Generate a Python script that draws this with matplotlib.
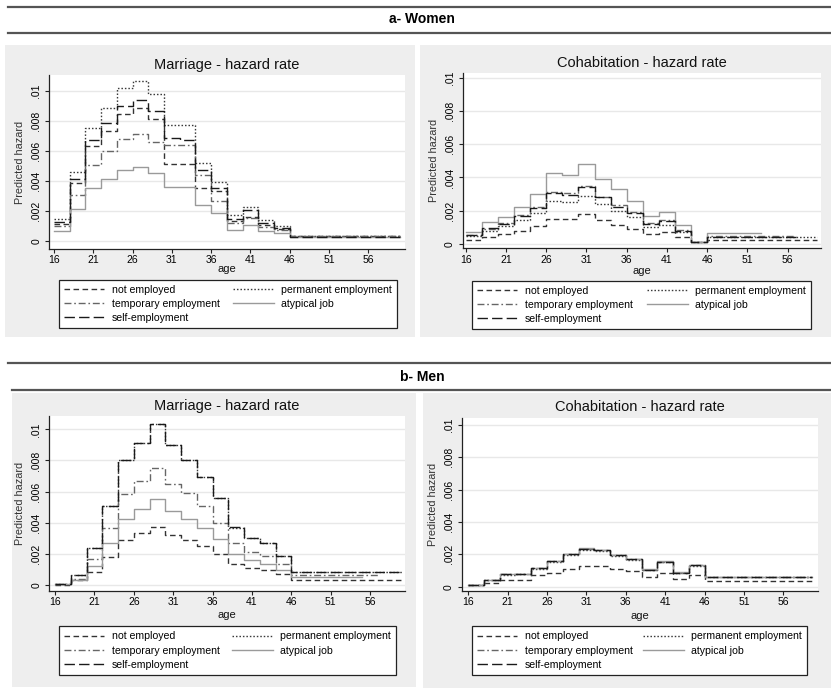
import matplotlib
matplotlib.use("Agg")
import matplotlib.pyplot as plt
import numpy as np
from matplotlib.lines import Line2D
from matplotlib.patches import Rectangle

W, H = 831, 691
plt.rcParams['font.family'] = ['Liberation Sans', 'DejaVu Sans']

# two-year age bands starting at these ages; last value of each series is the flat tail after 46
age_edges = [16, 18, 20, 22, 24, 26, 28, 30, 32, 34, 36, 38, 40, 42, 44, 46]
groups = ["not employed", "permanent employment", "temporary employment",
          "atypical job", "self-employment"]
yticks = [0, 0.002, 0.004, 0.006, 0.008, 0.01]
ytick_labels = ["0", ".002", ".004", ".006", ".008", ".01"]
xticks = [16, 21, 26, 31, 36, 41, 46, 51, 56]

# predicted hazards, in thousandths
# a- Women, marriage
w_mar_notemp = [1.1, 3.85, 6.3, 7.35, 8.45, 8.85, 8.15, 5.15, 5.15, 3.5, 3.3, 1.3, 1.6, 1.05, 0.8, 0.3]
w_mar_perm = [1.46, 4.6, 7.55, 8.87, 10.15, 10.64, 9.78, 7.74, 7.7, 5.17, 3.95, 1.7, 2.28, 1.4, 1.02, 0.33]
w_mar_temp = [1.0, 3.08, 5.05, 5.98, 6.77, 7.14, 6.57, 6.4, 6.4, 4.4, 2.65, 1.2, 1.5, 0.95, 0.7, 0.3]
w_mar_atyp = [0.68, 2.13, 3.52, 4.1, 4.72, 4.92, 4.53, 3.57, 3.57, 2.4, 1.85, 0.75, 1.05, 0.65, 0.5, 0.25]
w_mar_self = [1.25, 4.1, 6.7, 7.85, 9.0, 9.4, 8.64, 6.83, 6.75, 4.7, 3.55, 1.45, 2.05, 1.2, 0.85, 0.25]
w_mar_end = [60, 60, 60, 60, 60]

# a- Women, cohabitation
w_coh_notemp = [0.25, 0.42, 0.6, 0.8, 1.1, 1.53, 1.53, 1.78, 1.45, 1.17, 0.93, 0.63, 0.72, 0.4, 0.1, 0.25]
w_coh_perm = [0.5, 0.8, 1.1, 1.45, 1.85, 2.6, 2.55, 2.9, 2.4, 2.0, 1.6, 1.05, 1.15, 0.7, 0.12, 0.4]
w_coh_temp = [0.55, 0.9, 1.25, 1.75, 2.2, 3.1, 3.05, 3.5, 2.85, 2.35, 1.9, 1.25, 1.45, 0.85, 0.15, 0.5]
w_coh_atyp = [0.75, 1.3, 1.65, 2.25, 3.02, 4.25, 4.15, 4.8, 3.9, 3.28, 2.6, 1.7, 1.9, 1.15, 0.15, 0.65]
w_coh_self = [0.55, 0.95, 1.2, 1.7, 2.15, 3.05, 2.95, 3.4, 2.8, 2.25, 1.85, 1.2, 1.4, 0.8, 0.12, 0.45]
w_coh_end = [59.6, 59.6, 57, 52.7, 57]

# b- Men, marriage
m_mar_notemp = [0.03, 0.3, 0.85, 1.82, 2.9, 3.32, 3.75, 3.24, 2.92, 2.5, 1.98, 1.37, 1.08, 0.95, 0.7, 0.3]
m_mar_perm = [0.05, 0.65, 2.35, 5.1, 8.0, 9.15, 10.37, 8.97, 8.02, 6.95, 5.58, 3.68, 3.0, 2.7, 1.85, 0.85]
m_mar_temp = [0.05, 0.4, 1.68, 3.65, 5.85, 6.65, 7.5, 6.5, 5.9, 5.05, 4.0, 2.7, 2.15, 1.88, 1.35, 0.65]
m_mar_atyp = [0.05, 0.35, 1.23, 2.7, 4.22, 4.87, 5.5, 4.76, 4.24, 3.66, 2.95, 1.97, 1.6, 1.38, 0.97, 0.5]
m_mar_self = [0.05, 0.65, 2.35, 5.1, 8.02, 9.15, 10.37, 8.97, 8.02, 6.95, 5.58, 3.7, 3.0, 2.7, 1.85, 0.85]
m_mar_end = [60, 60, 57, 55, 60]

# b- Men, cohabitation
m_coh_notemp = [0.1, 0.22, 0.43, 0.43, 0.72, 0.85, 1.07, 1.3, 1.3, 1.1, 0.96, 0.57, 0.85, 0.47, 0.74, 0.35]
m_coh_perm = [0.12, 0.42, 0.74, 0.77, 1.12, 1.55, 1.97, 2.24, 2.2, 1.92, 1.68, 1.04, 1.52, 0.86, 1.3, 0.6]
m_coh_temp = [0.13, 0.43, 0.77, 0.8, 1.15, 1.6, 2.02, 2.36, 2.28, 1.96, 1.7, 1.06, 1.55, 0.87, 1.34, 0.6]
m_coh_atyp = [0.13, 0.44, 0.78, 0.81, 1.16, 1.62, 2.04, 2.38, 2.3, 1.98, 1.72, 1.08, 1.57, 0.89, 1.35, 0.62]
m_coh_self = [0.13, 0.43, 0.77, 0.8, 1.15, 1.6, 2.02, 2.36, 2.28, 1.96, 1.7, 1.06, 1.55, 0.87, 1.34, 0.6]
m_coh_end = [59.6, 59.6, 59.6, 59.6, 59.6]

styles = [
    dict(color='#333333', ls=(0, (4, 2.5))),           # not employed
    dict(color='#3a3a3a', ls=(0, (1.1, 1.4))),         # permanent
    dict(color='#666666', ls=(0, (5, 2, 1.2, 2))),     # temporary
    dict(color='#9a9a9a', ls='-'),                     # atypical
    dict(color='#1a1a1a', ls=(0, (7.5, 3))),           # self-employment
]

fig = plt.figure(figsize=(W / 100, H / 100), dpi=100)
fig.patch.set_facecolor('white')


def fbox(l, t, r, b):
    return [l / W, 1 - b / H, (r - l) / W, (b - t) / H]


def grey_panel(l, t, r, b):
    fig.add_artist(Rectangle((l / W, 1 - b / H), (r - l) / W, (b - t) / H,
                             transform=fig.transFigure, facecolor='#eeeeee',
                             edgecolor='none', zorder=-5))


def hline(x0, x1, y):
    fig.add_artist(Line2D([x0 / W, x1 / W], [1 - y / H, 1 - y / H],
                          transform=fig.transFigure, color='#555555', lw=1.6))


def panel(box, tick_px, title, title_y, age_y, ylab_x, leg, series, ends):
    l, t, r, b = box
    x16, x56, y0, y01 = tick_px
    ax = fig.add_axes(fbox(l, t, r, b))
    ax.set_facecolor('white')
    ppy = (x56 - x16) / 40.0
    ppv = (y0 - y01) / 0.01
    ax.set_xlim(16 + (l - x16) / ppy, 16 + (r - x16) / ppy)
    ax.set_ylim((y0 - b) / ppv, (y0 - t) / ppv)
    for yv in yticks:
        ax.axhline(yv, color='#e8e8e8', lw=1.0, zorder=0)
    for vals, end, st in zip(series, ends, styles):
        v = np.array(vals) * 1e-3
        xs = age_edges + [end]
        ys = list(v) + [v[-1]]
        ax.step(xs, ys, where='post', color=st['color'], ls=st['ls'], lw=1.0)
    for s in ['top', 'right']:
        ax.spines[s].set_visible(False)
    for s in ['left', 'bottom']:
        ax.spines[s].set_color('#222222')
        ax.spines[s].set_linewidth(0.9)
    ax.set_xticks(xticks)
    ax.set_yticks(yticks)
    ax.set_yticklabels(ytick_labels, rotation=90, va='center')
    ax.tick_params(axis='both', labelsize=7.5, length=3, width=0.8, color='#222222')
    ax.tick_params(axis='y', pad=2.5)
    ax.tick_params(axis='x', pad=1.5)
    ax.set_ylabel('Predicted hazard', fontsize=7.8, color='#333333')
    ax.yaxis.set_label_coords((ylab_x - l) / (r - l), 0.5)
    fig.text((l + r) / 2 / W, 1 - title_y / H, title, ha='center', va='center',
             fontsize=10.5, color='#111111')
    fig.text((l + r) / 2 / W, 1 - age_y / H, 'age', ha='center', va='center',
             fontsize=8, color='#111111')
    handles = [Line2D([], [], color=st['color'], ls=st['ls'], lw=1.0) for st in styles]
    order = [0, 2, 4, 1, 3]
    ll, lt, lr, lb = leg
    lg = fig.legend([handles[i] for i in order], [groups[i] for i in order],
                    loc='center', bbox_to_anchor=(ll / W, 1 - lb / H, (lr - ll) / W, (lb - lt) / H),
                    mode='expand', ncol=2, fontsize=7.6, frameon=True, fancybox=False,
                    edgecolor='#222222', facecolor='white', framealpha=1,
                    handlelength=3.8, handletextpad=0.7, labelspacing=0.38,
                    borderpad=0.5, borderaxespad=0, columnspacing=2.0)
    lg.get_frame().set_linewidth(0.9)
    return ax


# grey graph regions
grey_panel(5, 45, 415, 337)
grey_panel(420, 45, 831, 337)
grey_panel(12, 393, 416, 687)
grey_panel(423, 393, 831, 688)

# section headers
hline(8, 831, 7)
hline(8, 831, 33)
fig.text(422 / W, 1 - 19 / H, 'a- Women', ha='center', va='center', fontsize=10,
         fontweight='bold')
hline(8, 831, 363)
hline(12, 831, 390)
fig.text(422 / W, 1 - 377 / H, 'b- Men', ha='center', va='center', fontsize=10,
         fontweight='bold')

panel((49, 75, 405, 249), (54, 368.3, 241, 90.7), 'Marriage - hazard rate', 65, 269, 25,
      (59, 282, 397, 326),
      [w_mar_notemp, w_mar_perm, w_mar_temp, w_mar_atyp, w_mar_self], w_mar_end)
panel((462.7, 73, 821, 248.3), (465.7, 787.7, 244, 77.7), 'Cohabitation - hazard rate', 63, 270.5, 439,
      (472, 281, 811, 329),
      [w_coh_notemp, w_coh_perm, w_coh_temp, w_coh_atyp, w_coh_self], w_coh_end)
panel((49, 416, 405, 590.7), (55, 370, 585, 429.3), 'Marriage - hazard rate', 406, 615, 25,
      (59, 627, 396, 674),
      [m_mar_notemp, m_mar_perm, m_mar_temp, m_mar_atyp, m_mar_self], m_mar_end)
panel((461.7, 418, 817.7, 590.7), (468.3, 783.3, 586.7, 425), 'Cohabitation - hazard rate', 407, 616, 438,
      (472, 627, 807, 674),
      [m_coh_notemp, m_coh_perm, m_coh_temp, m_coh_atyp, m_coh_self], m_coh_end)

fig.savefig('out.png', dpi=100)
